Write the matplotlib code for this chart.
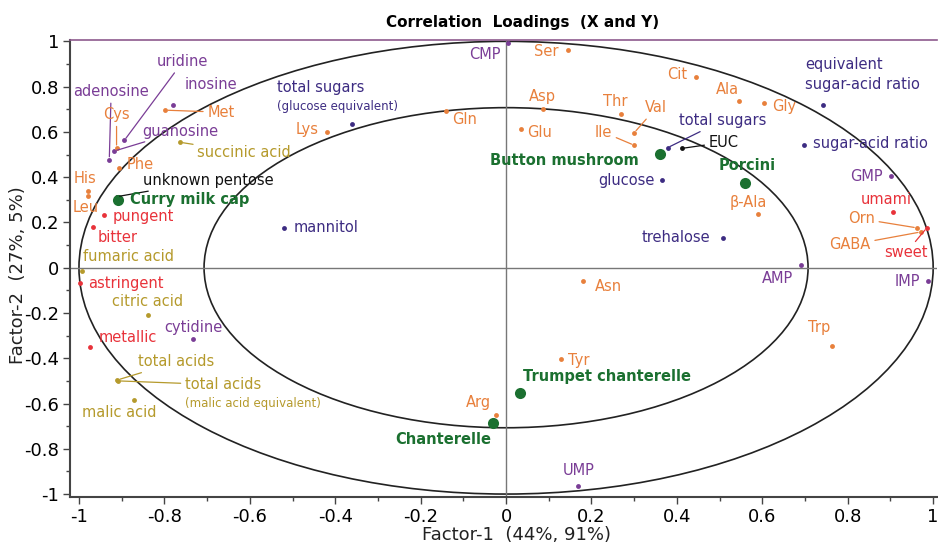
import numpy as np
import matplotlib.pyplot as plt
from matplotlib.patches import Ellipse
from matplotlib.ticker import MultipleLocator, FuncFormatter

# Нагрузки (Factor-1, Factor-2) по группам переменных
nuc_names = ["uridine", "inosine", "adenosine", "guanosine", "CMP", "cytidine",
             "AMP", "UMP", "IMP", "GMP"]
nuc_x = [-0.894, -0.781, -0.929, -0.918, 0.004, -0.734, 0.691, 0.169, 0.989, 0.901]
nuc_y = [0.562, 0.717, 0.478, 0.515, 0.991, -0.316, 0.010, -0.963, -0.058, 0.404]

sug_names = ["total sugars (glucose equivalent)", "total sugars", "mannitol", "glucose",
             "trehalose", "sugar-acid ratio", "equivalent\nsugar-acid ratio"]
sug_x = [-0.361, 0.378, -0.520, 0.365, 0.509, 0.698, 0.743]
sug_y = [0.633, 0.530, 0.176, 0.386, 0.131, 0.544, 0.721]

aa_names = ["Met", "Cys", "Phe", "His", "Leu", "Lys", "Gln", "Glu", "Asp", "Ser", "Cit",
            "Ala", "Gly", "Thr", "Val", "Ile", "β-Ala", "Orn", "GABA", "Asn", "Tyr",
            "Trp", "Arg"]
aa_x = [-0.798, -0.912, -0.906, -0.978, -0.978, -0.420, -0.141, 0.035, 0.086, 0.146, 0.444,
        0.546, 0.603, 0.269, 0.300, 0.300, 0.589, 0.962, 0.971, 0.181, 0.129, 0.763, -0.023]
aa_y = [0.696, 0.530, 0.441, 0.338, 0.315, 0.599, 0.692, 0.611, 0.699, 0.960, 0.844,
        0.736, 0.726, 0.677, 0.596, 0.541, 0.239, 0.176, 0.158, -0.058, -0.404, -0.348, -0.650]

taste_names = ["pungent", "bitter", "astringent", "metallic", "umami", "sweet"]
taste_x = [-0.941, -0.967, -0.998, -0.974, 0.907, 0.985]
taste_y = [0.235, 0.181, -0.068, -0.351, 0.245, 0.176]

acid_names = ["succinic acid", "fumaric acid", "citric acid", "total acids",
              "total acids (malic acid equivalent)", "malic acid"]
acid_x = [-0.763, -0.994, -0.839, -0.910, -0.909, -0.871]
acid_y = [0.554, -0.016, -0.208, -0.496, -0.500, -0.584]

other_names = ["unknown pentose", "EUC"]
other_x = [-0.911, 0.411]
other_y = [0.314, 0.527]

sample_names = ["Curry milk cap", "Button mushroom", "Porcini", "Trumpet chanterelle",
                "Chanterelle"]
sample_x = [-0.908, 0.361, 0.560, 0.033, -0.030]
sample_y = [0.301, 0.504, 0.375, -0.554, -0.687]

# Смещение подписи от точки (пиксели), выравнивание, выноска
layout = {
    "uridine": (33, 79, "left", True), "inosine": (12, 21, "left", False),
    "adenosine": (-36, 68, "left", True), "guanosine": (28, 20, "left", True),
    "CMP": (-7, -11, "right", False), "cytidine": (-28, 12, "left", False),
    "AMP": (-8, -13, "right", False), "UMP": (0, 15, "center", False),
    "IMP": (-8, -1, "right", False), "GMP": (-8, 0, "right", False),
    "total sugars (glucose equivalent)": (-75, 37, "left", False),
    "total sugars": (11, 27, "left", True), "mannitol": (10, 0, "left", False),
    "glucose": (-7, 0, "right", False), "trehalose": (-13, 1, "right", False),
    "sugar-acid ratio": (9, 1, "left", False),
    "equivalent\nsugar-acid ratio": (-18, 30, "left", False),
    "Met": (42, -2, "left", True), "Cys": (0, 33, "center", True),
    "Phe": (8, 3, "left", False), "His": (-15, 13, "left", False),
    "Leu": (-16, -11, "left", False), "Lys": (-8, 3, "right", False),
    "Gln": (6, -8, "left", False), "Glu": (6, -3, "left", False),
    "Asp": (0, 13, "center", False), "Ser": (-10, -1, "right", False),
    "Cit": (-8, 2, "right", False), "Ala": (-12, 12, "center", False),
    "Gly": (9, -3, "left", False), "Thr": (-6, 13, "center", False),
    "Val": (11, 25, "left", True), "Ile": (-22, 13, "right", True),
    "β-Ala": (-9, 11, "center", False), "Orn": (-42, 9, "right", True),
    "GABA": (-50, -13, "right", True), "Asn": (12, -6, "left", False),
    "Tyr": (7, -1, "left", False), "Trp": (-13, 19, "center", False),
    "Arg": (-5, 12, "right", False),
    "pungent": (8, -2, "left", False), "bitter": (5, -11, "left", False),
    "astringent": (8, 0, "left", False), "metallic": (9, 10, "left", False),
    "umami": (-7, 13, "center", False), "sweet": (1, -25, "right", True),
    "succinic acid": (17, -10, "left", True), "fumaric acid": (1, 15, "left", False),
    "citric acid": (-36, 13, "left", False), "total acids": (21, 18, "left", True),
    "total acids (malic acid equivalent)": (67, -4, "left", True),
    "malic acid": (-52, -13, "left", False),
    "unknown pentose": (26, 16, "left", True), "EUC": (27, 6, "left", True),
    "Curry milk cap": (12, 0, "left", False), "Button mushroom": (-21, -7, "right", False),
    "Porcini": (2, 17, "center", False), "Trumpet chanterelle": (3, 17, "left", False),
    "Chanterelle": (-2, -16, "right", False),
}

fig = plt.figure(figsize=(9.38, 5.45), dpi=100)
ax = fig.add_axes([70 / 938, 1 - 497 / 545, 867 / 938, 457 / 545])
ax.set_xlim(-1.021, 1.009)
ax.set_ylim(-1.013, 1.006)

# Эллипсы 100% и 50% объяснённой дисперсии
ax.add_patch(Ellipse((0, 0), 2, 2, fill=False, ec="#222222", lw=1.2))
ax.add_patch(Ellipse((0, 0), 2 * np.sqrt(0.5), 2 * np.sqrt(0.5), fill=False,
                     ec="#222222", lw=1.2))
ax.axhline(0, color="#777777", lw=1)
ax.axvline(0, color="#777777", lw=1)


def draw_group(names, xs, ys, color, ms=3.5, weight="normal"):
    ax.plot(xs, ys, "o", color=color, ms=ms, mec="none", zorder=3)
    for n, x, y in zip(names, xs, ys):
        dx, dy, ha, leader = layout[n]
        text, sub = n, None
        if n.endswith(")") and " (" in n:
            text, sub = n.split(" (")
            sub = "(" + sub
        props = dict(arrowstyle="-", color=color, lw=0.9, shrinkA=1, shrinkB=2) if leader else None
        ax.annotate(text, (x, y), xytext=(dx, dy), textcoords="offset pixels",
                    ha=ha, va="center", color=color, fontsize=10.5, fontweight=weight,
                    linespacing=1.45, arrowprops=props, zorder=4)
        if sub:
            ax.annotate(sub, (x, y), xytext=(dx, dy - 19), textcoords="offset pixels",
                        ha=ha, va="center", color=color, fontsize=8.5, zorder=4)


draw_group(nuc_names, nuc_x, nuc_y, "#7a3d96")
draw_group(sug_names, sug_x, sug_y, "#3d2c82")
draw_group(aa_names, aa_x, aa_y, "#e8803c")
draw_group(taste_names, taste_x, taste_y, "#e8323a")
draw_group(acid_names, acid_x, acid_y, "#b59a2c")
draw_group(other_names, other_x, other_y, "#111111")
draw_group(sample_names, sample_x, sample_y, "#1b7030", ms=8, weight="bold")

# Оси и подписи
ax.xaxis.set_major_locator(MultipleLocator(0.2))
ax.xaxis.set_minor_locator(MultipleLocator(0.1))
ax.yaxis.set_major_locator(MultipleLocator(0.2))
ax.yaxis.set_minor_locator(MultipleLocator(0.1))
fmt = FuncFormatter(lambda v, p: f"{v:.1f}".rstrip("0").rstrip(".").replace("-0", "-0") if abs(v) > 1e-9 else "0")
ax.xaxis.set_major_formatter(fmt)
ax.yaxis.set_major_formatter(fmt)
ax.tick_params(which="major", direction="out", length=5, width=1, labelsize=13,
               color="#444444", pad=3)
ax.tick_params(which="minor", direction="out", length=3, width=1, color="#444444")

for side in ["left", "bottom"]:
    ax.spines[side].set_color("#444444")
    ax.spines[side].set_linewidth(1.5)
ax.spines["right"].set_visible(False)
ax.spines["top"].set_color("#8e5a8e")
ax.spines["top"].set_linewidth(1.2)

fig.text(523 / 938, 1 - 22 / 545, "Correlation  Loadings  (X and Y)", ha="center",
         va="center", fontsize=11, fontweight="bold")
fig.text(517 / 938, 1 - 535 / 545, "Factor-1  (44%, 91%)", ha="center", va="center",
         fontsize=13, color="#222222")
fig.text(18 / 938, 1 - 275 / 545, "Factor-2  (27%, 5%)", ha="center", va="center",
         rotation=90, fontsize=13, color="#222222")

plt.savefig("out.png", dpi=100)
